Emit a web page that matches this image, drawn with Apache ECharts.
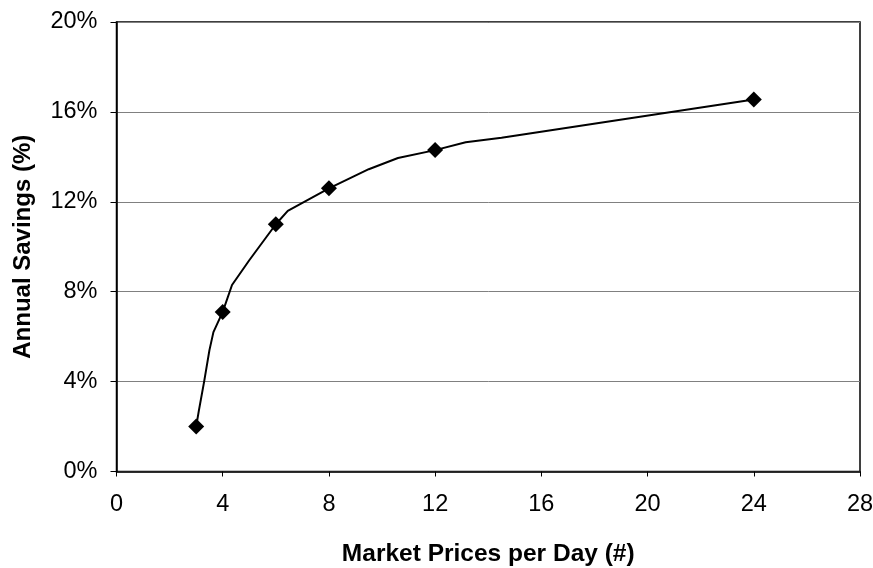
<!DOCTYPE html>
<html>
<head>
<meta charset="utf-8">
<script src="https://cdn.jsdelivr.net/npm/echarts@6/dist/echarts.min.js"></script>
<style>html,body{margin:0;padding:0;background:#fff;}#c{width:873px;height:568px;}</style>
</head>
<body>
<div id="c"></div>
<script>
// Marker data
var markerX = [3, 4, 6, 8, 12, 24];
var markerY = [2.0, 7.1, 11.0, 12.6, 14.3, 16.55];
// Curve points
var curveX = [3, 3.1, 3.3, 3.5, 3.65, 4, 4.35, 5, 6, 6.45, 8, 9.5, 10.6, 12, 13.15, 14.5, 24];
var curveY = [2.0, 2.7, 4.0, 5.4, 6.2, 7.1, 8.3, 9.4, 11.0, 11.6, 12.6, 13.45, 13.95, 14.3, 14.65, 14.85, 16.55];
var xTitle = 'Market Prices per Day (#)';
var yTitle = 'Annual Savings (%)';

var chart = echarts.init(document.getElementById('c'), null, {renderer: 'canvas'});
var font = 'Liberation Sans, Arial, sans-serif';
chart.setOption({
  animation: false,
  backgroundColor: '#fff',
  grid: {left: 116.5, right: 13, top: 22, bottom: 96.5, containLabel: false, outerBoundsMode: 'none',
         show: true, borderColor: '#000', borderWidth: 1.5, backgroundColor: 'transparent'},
  xAxis: {
    type: 'value', min: 0, max: 28, interval: 4,
    name: xTitle, nameLocation: 'middle', nameGap: 70,
    nameTextStyle: {fontFamily: font, fontSize: 24.5, fontWeight: 'bold', color: '#000'},
    axisLine: {lineStyle: {color: '#000', width: 1.5}},
    axisTick: {show: true, length: 5, lineStyle: {color: '#000'}},
    axisLabel: {fontFamily: font, fontSize: 23.5, color: '#000', margin: 21},
    splitLine: {show: false}
  },
  yAxis: {
    type: 'value', min: 0, max: 20, interval: 4,
    name: yTitle, nameLocation: 'middle', nameGap: 81,
    nameTextStyle: {fontFamily: font, fontSize: 24, fontWeight: 'bold', color: '#000'},
    axisLine: {lineStyle: {color: '#000', width: 1.5}},
    axisTick: {show: true, length: 6, lineStyle: {color: '#000'}},
    axisLabel: {fontFamily: font, fontSize: 23.5, color: '#000', margin: 19, formatter: function(v){return v + '%';}},
    splitLine: {show: true, lineStyle: {color: '#808080', width: 1}}
  },
  series: [
    {
      type: 'line', data: curveX.map(function(x, i){return [x, curveY[i]];}),
      showSymbol: false, symbol: 'none', lineStyle: {color: '#000', width: 2}, z: 2
    },
    {
      type: 'scatter', data: markerX.map(function(x, i){return [x, markerY[i]];}),
      symbol: 'diamond', symbolSize: 16, itemStyle: {color: '#000', opacity: 1}, z: 3
    }
  ]
});
</script>
</body>
</html>
